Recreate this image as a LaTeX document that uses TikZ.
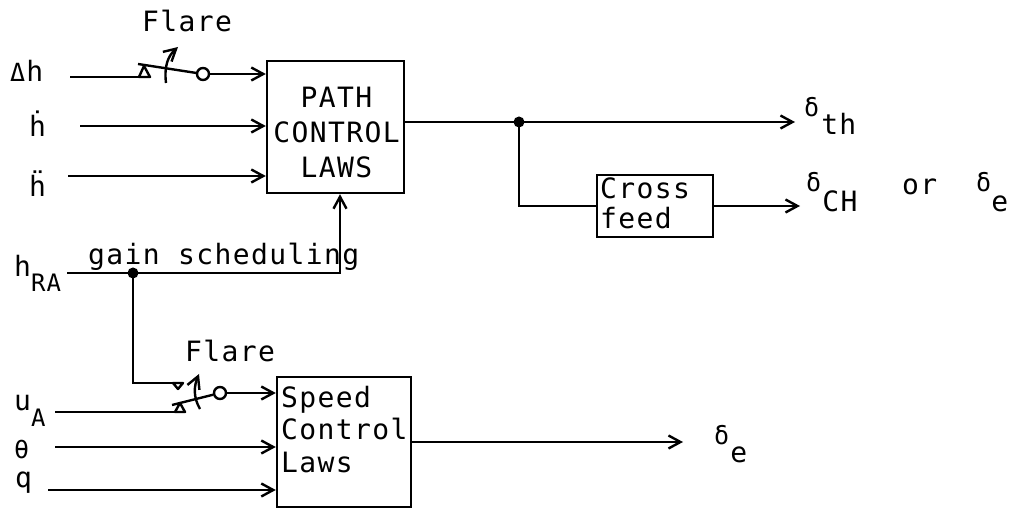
\documentclass[tikz,border=0pt]{standalone}
\usepackage{fontspec}
\setmainfont[LetterSpace=5]{DejaVu Sans Mono}
\usetikzlibrary{arrows.meta}
\newcommand\smf{\fontsize{24}{24}\selectfont}
\newcommand\dlt{{\fontsize{25}{25}\selectfont δ}}
\begin{document}
\begin{tikzpicture}[x=1pt,y=-1pt,
  ln/.style={line width=2.4pt},
  arr/.style={line width=2.4pt,-{Straight Barb[length=12pt,width=13pt,line width=2.4pt]}},
  blk/.style={draw,line width=2.4pt,inner sep=0pt},
  lbl/.style={inner sep=0pt,font=\fontsize{28}{28}\selectfont,anchor=base west},
  txt/.style={inner sep=0pt},
  jdot/.style={circle,fill,inner sep=0pt,minimum size=11pt},
  ring/.style={circle,draw,line width=2.4pt,inner sep=0pt,minimum size=12pt,fill=white}]
\fill[white] (0,0) rectangle (1012,510);
\useasboundingbox (0,0) rectangle (1012,510);

% blocks
\node[blk,minimum width=137pt,minimum height=132pt] (path) at (335.5,127) {};
\node[blk,minimum width=134pt,minimum height=130pt] (speed) at (344,442) {};
\node[blk,minimum width=116pt,minimum height=62pt] (cross) at (655,206) {};
\node[txt,align=center,anchor=north,font=\fontsize{28}{35}\selectfont] (pathtxt) at (336.5,87) {PATH\\CONTROL\\LAWS};
\node[txt,align=left,anchor=north west,font=\fontsize{28}{32.5}\selectfont] (speedtxt) at (281,386) {Speed\\Control\\Laws};
\node[txt,align=left,anchor=north west,font=\fontsize{28}{30}\selectfont] (crosstxt) at (600,178) {Cross\\feed};

% labels
\node[lbl] (dh) at (10,82) {{\fontsize{25}{25}\selectfont Δ}\hspace{1pt}h};
\node[lbl] (hd) at (29,137) {ḣ};
\node[lbl] (hdd) at (29,197) {ḧ};
\node[lbl] (hra) at (14,277) {h\raisebox{-15pt}{\smf RA}};
\node[lbl] (ua) at (14,410) {u\raisebox{-17pt}{\smf A}};
\node[lbl] (th) at (14,458) {{\fontsize{25}{25}\selectfont θ}};
\node[lbl] (q) at (15,487) {q};
\node[lbl] (flare1) at (142,32) {Flare};
\node[lbl] (flare2) at (185,362) {Flare};
\node[lbl] (gs) at (88,265) {gain scheduling};
\node[lbl] (oth) at (804,135) {\raisebox{18pt}{\dlt}\hspace{2pt}th};
\node[lbl] (och) at (806,212) {\raisebox{20pt}{\dlt}\hspace{1pt}CH};
\node[lbl] (or) at (902,195) {or};
\node[lbl] (oe) at (976,212) {\raisebox{20pt}{\dlt}\hspace{0pt}e};
\node[lbl] (se) at (714,462) {\raisebox{18pt}{\dlt}\hspace{1pt}e};

% Delta h with flare switch
\coordinate (dhs) at (70,77);
\coordinate (p1) at (140,77);
\draw[ln] (dhs) -- (p1);
\draw[ln,line join=round] (139,77) -- (150,77) -- (144,66) -- cycle;
\node[ring] (r1) at (203,74) {};
\draw[ln] (138,64) -- (r1);
\draw[arr] (r1) -- (r1 -| path.west);
\draw[arr] (166,83) .. controls (164,66) and (168,56) .. (178,47);

% h dot, h double dot
\coordinate (hds) at (80,126);
\draw[arr] (hds) -- (hds -| path.west);
\coordinate (hdds) at (68,176);
\draw[arr] (hdds) -- (hdds -| path.west);

% h_RA gain scheduling
\coordinate (hras) at (67,273);
\coordinate (gsc) at (340,273);
\draw[arr] (hras) -- (gsc) -- (gsc |- path.south);
\node[jdot] (j1) at (133,273) {};
\coordinate (c2) at (133,383);
\draw[ln] (j1.center) -- (c2) -- (175,383);
\draw[ln,line join=round] (173,383) -- (183,383) -- (178,389) -- cycle;

% u_A with flare switch
\coordinate (uas) at (55,412);
\draw[ln] (uas) -- (178,412);
\draw[ln,line join=round] (175,412) -- (185,412) -- (180,403) -- cycle;
\node[ring] (r2) at (220,393) {};
\draw[ln] (172,405) -- (r2);
\draw[arr] (r2) -- (r2 -| speed.west);
\draw[arr] (200,409) .. controls (193,397) and (194,386) .. (199,374);

% theta, q
\coordinate (ths) at (55,447);
\draw[arr] (ths) -- (ths -| speed.west);
\coordinate (qs) at (48,490);
\draw[arr] (qs) -- (qs -| speed.west);

% outputs
\node[jdot] (j2) at (519,122) {};
\coordinate (dth) at (795,122);
\draw[arr] (path.east |- j2) -- (dth);
\draw[ln] (j2.center) |- (cross.west);
\coordinate (dch) at (800,206);
\draw[arr] (cross.east) -- (dch);
\coordinate (dse) at (683,442);
\draw[arr] (speed.east) -- (dse);
\end{tikzpicture}
\end{document}
